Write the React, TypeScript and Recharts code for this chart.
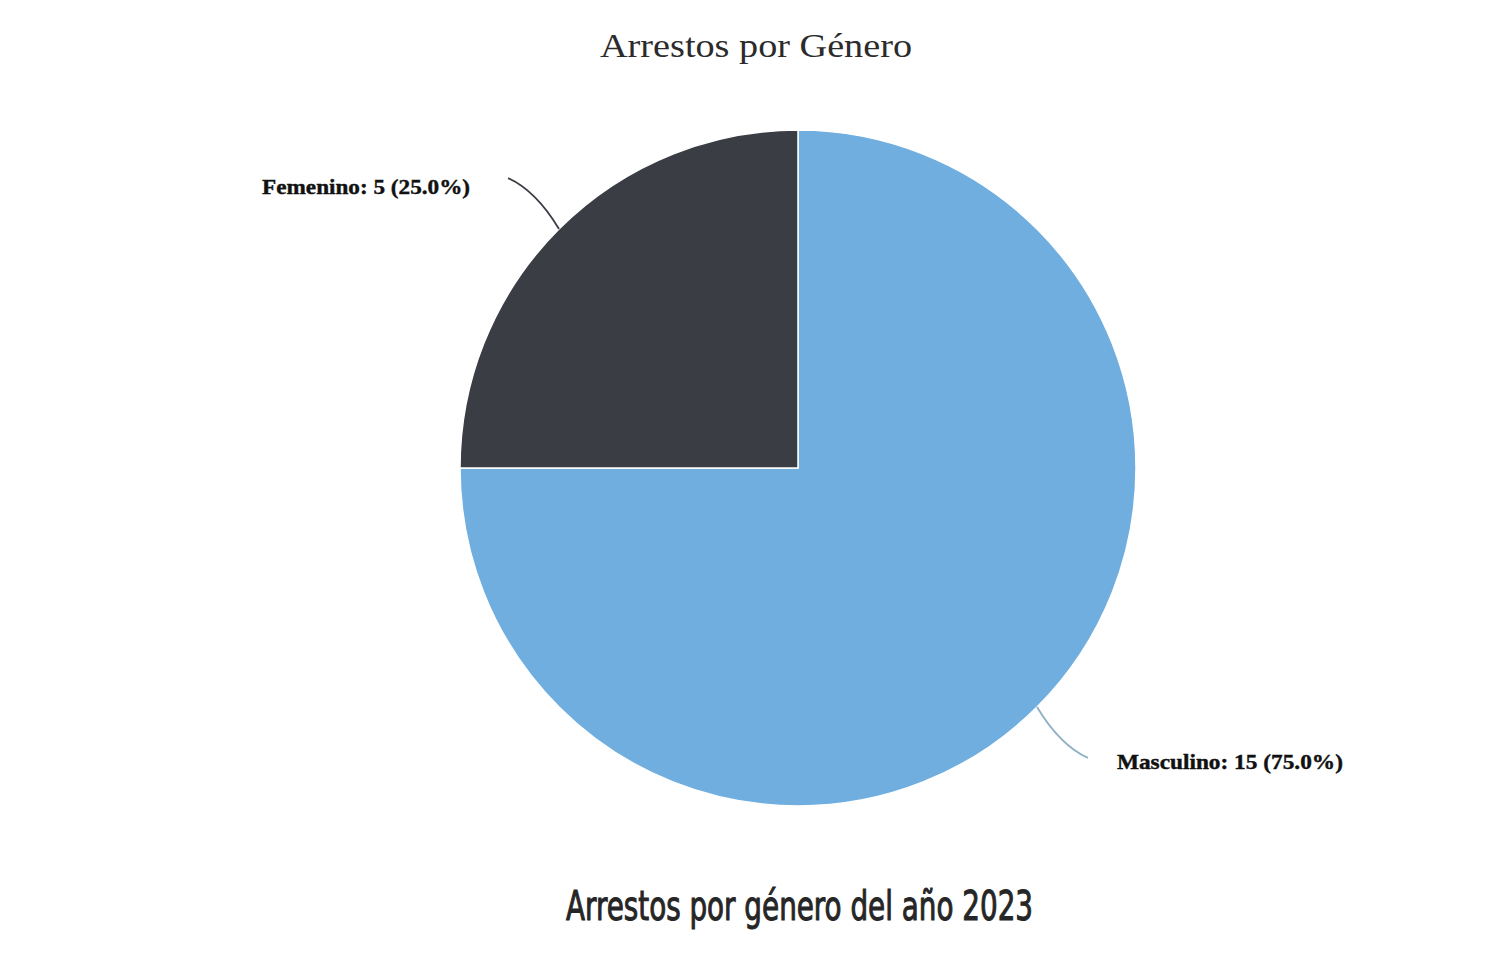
import React from 'react';
import { PieChart, Pie, Cell } from 'recharts';

// Arrest counts by gender, 2023
const categories = ['Masculino', 'Femenino'];
const arrests = [15, 5];

const sliceColors = ['#6faedf', '#3b3d45'];
const lineColors = ['#8fb0c4', '#3b3d45'];

const data = categories.map((name, i) => ({ name, value: arrests[i] }));

const RAD = Math.PI / 180;

const edgeAndEnd = (cx: number, cy: number, midAngle: number, r: number) => {
  const cos = Math.cos(-midAngle * RAD);
  const sin = Math.sin(-midAngle * RAD);
  const start = { x: cx + r * cos, y: cy + r * sin };
  const end = { x: cx + (r + 72) * cos, y: cy + (r + 72) * sin };
  return { start, end, cos };
};

const renderLabelLine = (props: any) => {
  const { cx, cy, midAngle, outerRadius, index } = props;
  const { start, end } = edgeAndEnd(cx, cy, midAngle, outerRadius);
  const ctrl = {
    x: start.x + (end.x - start.x) * 0.45,
    y: start.y + (end.y - start.y) * 0.75,
  };
  return (
    <path
      d={`M${start.x},${start.y} Q${ctrl.x},${ctrl.y} ${end.x},${end.y}`}
      stroke={lineColors[index]}
      strokeWidth={1.8}
      fill="none"
    />
  );
};

const renderLabel = (props: any) => {
  const { cx, cy, midAngle, outerRadius, percent, value, name } = props;
  const { end, cos } = edgeAndEnd(cx, cy, midAngle, outerRadius);
  const right = cos >= 0;
  const text = `${name}: ${value} (${(percent * 100).toFixed(1)}%)`;
  return (
    <text
      x={right ? end.x + 29 : end.x - 38}
      y={end.y + (right ? 11 : 16)}
      textAnchor={right ? 'start' : 'end'}
      fontFamily="'Liberation Serif', 'Times New Roman', serif"
      fontWeight="bold"
      fontSize={21}
      fill="#111"
      stroke="#111"
      strokeWidth={0.4}
      textLength={right ? 226 : 208}
      lengthAdjust="spacingAndGlyphs"
    >
      {text}
    </text>
  );
};

export default function App() {
  return (
    <div style={{ position: 'absolute', left: 0, top: 0, width: 1500, height: 953, background: '#fff' }}>
      <PieChart width={1500} height={953} margin={{ top: 0, right: 0, bottom: 0, left: 0 }}>
        <Pie
          data={data}
          dataKey="value"
          nameKey="name"
          cx={798}
          cy={468}
          outerRadius={338}
          startAngle={90}
          endAngle={-270}
          stroke="#ffffff"
          strokeWidth={1.5}
          label={renderLabel}
          labelLine={renderLabelLine}
          isAnimationActive={false}
        >
          {data.map((d, i) => (
            <Cell key={d.name} fill={sliceColors[i]} />
          ))}
        </Pie>
      </PieChart>
      <svg width={1500} height={953} style={{ position: 'absolute', left: 0, top: 0, pointerEvents: 'none' }}>
        <text
          x={600}
          y={57}
          fontFamily="'Liberation Serif', 'Times New Roman', serif"
          fontSize={34}
          fill="#2b2b2b"
          textLength={312}
          lengthAdjust="spacingAndGlyphs"
        >
          Arrestos por Género
        </text>
        <text
          x={566}
          y={920}
          fontFamily="'DejaVu Sans Condensed', 'DejaVu Sans', sans-serif"
          fontSize={40}
          fill="#262626"
          stroke="#262626"
          strokeWidth={1}
          textLength={467}
          lengthAdjust="spacingAndGlyphs"
        >
          Arrestos por género del año 2023
        </text>
      </svg>
    </div>
  );
}
